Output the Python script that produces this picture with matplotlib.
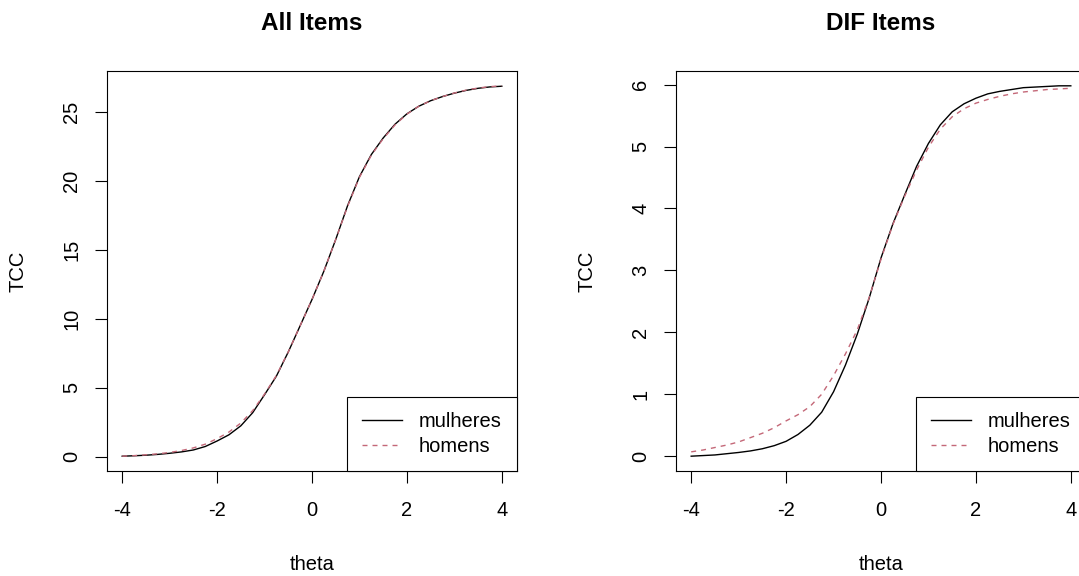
"""
TCC (test characteristic curves) for all items vs DIF items,
mulheres vs homens, drawn in the style of an R base-graphics plot.
"""

import numpy as np
import matplotlib.pyplot as plt

plt.rcParams["font.family"] = ["Liberation Sans", "DejaVu Sans"]
plt.rcParams["axes.unicode_minus"] = False

# ── Data ──────────────────────────────────────────────────────────────────────
THETA = np.linspace(-4, 4, 33)  # grid step 0.25

ALL_MULHERES = [0.05, 0.08, 0.12, 0.18, 0.26, 0.36, 0.50, 0.75, 1.15, 1.60, 2.25,
                3.20, 4.50, 5.85, 7.60, 9.50, 11.40, 13.45, 15.75, 18.20, 20.30,
                21.90, 23.10, 24.10, 24.85, 25.40, 25.80, 26.10, 26.35, 26.55,
                26.70, 26.80, 26.85]
ALL_HOMENS = [0.05, 0.09, 0.15, 0.22, 0.32, 0.46, 0.65, 0.92, 1.32, 1.80, 2.45,
              3.35, 4.55, 5.90, 7.60, 9.50, 11.40, 13.45, 15.75, 18.15, 20.25,
              21.85, 23.05, 24.05, 24.83, 25.40, 25.80, 26.10, 26.36, 26.57,
              26.72, 26.82, 26.88]

DIF_MULHERES = [0.00, 0.01, 0.02, 0.04, 0.06, 0.085, 0.12, 0.17, 0.24, 0.35, 0.50,
                0.71, 1.04, 1.47, 1.97, 2.55, 3.20, 3.75, 4.22, 4.68, 5.05, 5.35,
                5.56, 5.69, 5.78, 5.85, 5.89, 5.92, 5.95, 5.96, 5.97, 5.98, 5.98]
DIF_HOMENS = [0.07, 0.10, 0.14, 0.18, 0.23, 0.30, 0.37, 0.46, 0.57, 0.67, 0.80,
              1.00, 1.30, 1.65, 2.04, 2.56, 3.18, 3.74, 4.20, 4.62, 4.99, 5.28,
              5.48, 5.61, 5.70, 5.76, 5.81, 5.85, 5.88, 5.90, 5.92, 5.93, 5.94]

X_TICKS = [-4, -2, 0, 2, 4]
ALL_Y_TICKS = [0, 5, 10, 15, 20, 25]
DIF_Y_TICKS = [0, 1, 2, 3, 4, 5, 6]

SERIES_LABELS = ["mulheres", "homens"]
ROSE = "#c46878"

# ── Figure in pixel units ─────────────────────────────────────────────────────
W, H = 1079, 576
fig = plt.figure(figsize=(W / 100, H / 100), dpi=100)
BASE = 14.5


def add_axes_px(left, top, right, bottom):
    return fig.add_axes([left / W, 1 - bottom / H, (right - left) / W, (bottom - top) / H])


def fig_text(x, y, s, **kw):
    fig.text(x / W, 1 - y / H, s, **kw)


panels = [
    ("All Items", ALL_MULHERES, ALL_HOMENS, ALL_Y_TICKS, 107, 517),
    ("DIF Items", DIF_MULHERES, DIF_HOMENS, DIF_Y_TICKS, 676, 1086),
]

TOP, BOTTOM = 71, 471

for title, mulheres, homens, yticks, left, right in panels:
    ax = add_axes_px(left, TOP, right, BOTTOM)
    ax.plot(THETA, mulheres, color="black", lw=1.0, label=SERIES_LABELS[0])
    ax.plot(THETA, homens, color=ROSE, lw=1.0, dashes=(3.6, 3.6), label=SERIES_LABELS[1])
    ax.margins(0.04)

    ax.set_xticks(X_TICKS)
    ax.set_yticks(yticks)
    ax.tick_params(axis="both", direction="out", length=8.6, width=0.8,
                   labelsize=BASE, colors="black")
    ax.tick_params(axis="x", pad=13)
    ax.tick_params(axis="y", pad=10, labelrotation=90)
    for lbl in ax.get_yticklabels():
        lbl.set_va("center")
    for sp in ax.spines.values():
        sp.set_linewidth(0.8)

    leg = ax.legend(loc="lower right", borderaxespad=0, fancybox=False,
                    edgecolor="black", framealpha=1, fontsize=BASE,
                    handlelength=2.0, handletextpad=0.85, borderpad=0.75,
                    labelspacing=0.3)
    leg.get_frame().set_linewidth(0.8)

    cx = (left + right) / 2
    fig_text(cx, 30, title, ha="center", va="baseline", fontsize=17.5, fontweight="bold")
    fig_text(cx, 570, "theta", ha="center", va="baseline", fontsize=BASE)
    fig_text(left - 89, (TOP + BOTTOM) / 2, "TCC", ha="center", va="center",
             rotation=90, fontsize=BASE)

fig.savefig("out.png", dpi=100)
